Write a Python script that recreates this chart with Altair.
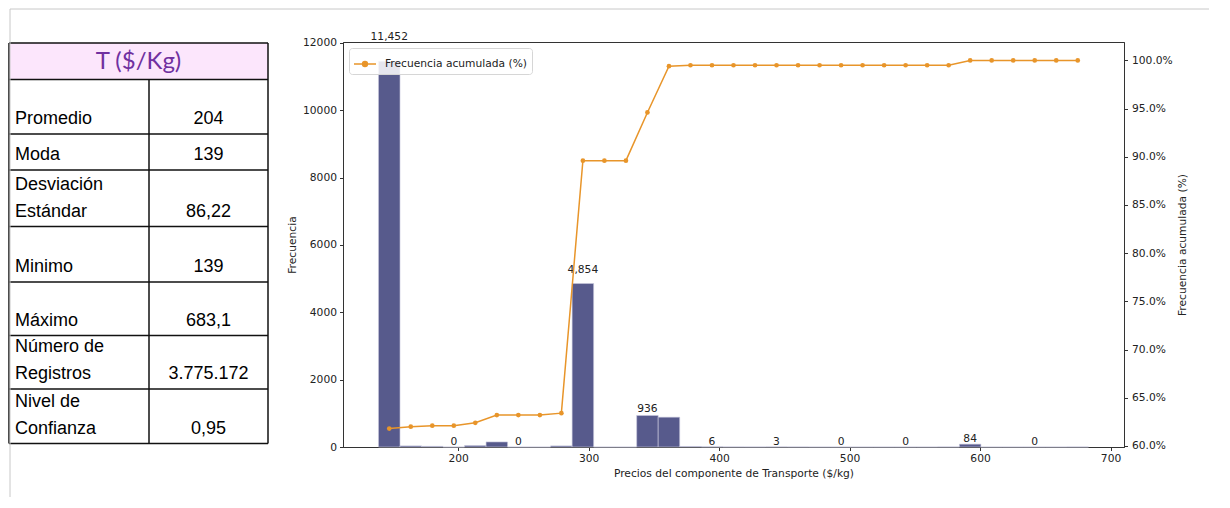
import altair as alt
import pandas as pd

# ---------------- data ----------------
# histogram (33 bins between min 139 and max 683.1)
bin_edges = [139.0, 155.49, 171.98, 188.46, 204.95, 221.44, 237.93, 254.42, 270.90, 287.39,
             303.88, 320.37, 336.85, 353.34, 369.83, 386.32, 402.81, 419.29, 435.78, 452.27,
             468.76, 485.25, 501.73, 518.22, 534.71, 551.20, 567.68, 584.17, 600.66, 617.15,
             633.64, 650.12, 666.61, 683.10]
counts = [11452, 33, 19, 0, 44, 150, 0, 0, 33, 4854,
          0, 0, 936, 885, 15, 6, 2, 1, 3, 1,
          0, 0, 0, 0, 0, 0, 2, 84, 0, 0,
          0, 0, 1]
cum_pct = [61.8, 62.0, 62.1, 62.1, 62.4, 63.2, 63.2, 63.2, 63.4, 89.6,
           89.6, 89.6, 94.6, 99.4, 99.5, 99.5, 99.5, 99.5, 99.5, 99.5,
           99.5, 99.5, 99.5, 99.5, 99.5, 99.5, 99.5, 100.0, 100.0, 100.0,
           100.0, 100.0, 100.0]
x_ticks = [200, 300, 400, 500, 600, 700]
y_ticks = [0, 2000, 4000, 6000, 8000, 10000, 12000]
pct_ticks = [0.60, 0.65, 0.70, 0.75, 0.80, 0.85, 0.90, 0.95, 1.00]
series_name = "Frecuencia acumulada (%)"

# summary table
table_title = "T ($/Kg)"
stat_labels = ["Promedio", "Moda", "Desviación\nEstándar", "Minimo", "Máximo",
               "Número de\nRegistros", "Nivel de\nConfianza"]
stat_values = ["204", "139", "86,22", "139", "683,1", "3.775.172", "0,95"]

# ---------------- layout / style ----------------
BAR = "#575a8c"
BAR_EDGE = "#c9cade"
ORANGE = "#e8952a"
TXT = "#222222"
FONT = "DejaVu Sans"
FS = 10.7

TABLE_W = 259
TABLE_H = 405
row_edges = [1, 37.5, 92, 128, 184.5, 240, 293.5, 347, 401.5]   # table grid (px from top)
col_split = 140
LINE_H = 27

PLOT_W = 781
PLOT_H = 405

# ---------------- table panel ----------------
tx = alt.Scale(domain=[0, TABLE_W], nice=False, zero=False)
ty = alt.Scale(domain=[0, TABLE_H], nice=False, zero=False, reverse=True)

header_df = pd.DataFrame({"x0": [0], "x1": [TABLE_W], "y0": [row_edges[0]], "y1": [row_edges[1]],
                          "xc": [TABLE_W / 2], "yc": [(row_edges[0] + row_edges[1]) / 2],
                          "t": [table_title]})
header_fill = alt.Chart(header_df).mark_rect(fill="#fce6fc").encode(
    x=alt.X("x0:Q", scale=tx, axis=None), x2="x1:Q",
    y=alt.Y("y0:Q", scale=ty, axis=None), y2="y1:Q")
header_text = alt.Chart(header_df).mark_text(
    font="Lato", fontSize=24, color="#7030a0", align="center", baseline="middle", dy=1
).encode(x=alt.X("xc:Q", scale=tx, axis=None), y=alt.Y("yc:Q", scale=ty, axis=None), text="t:N")

hl_df = pd.DataFrame({"y": row_edges, "x0": 0, "x1": TABLE_W})
hlines = alt.Chart(hl_df).mark_rule(color="#111111", strokeWidth=1.5).encode(
    x=alt.X("x0:Q", scale=tx, axis=None), x2="x1:Q", y=alt.Y("y:Q", scale=ty, axis=None))
vl_df = pd.DataFrame({"x": [0, TABLE_W, col_split],
                      "y0": [row_edges[0], row_edges[0], row_edges[1]],
                      "y1": [row_edges[-1]] * 3})
vlines = alt.Chart(vl_df).mark_rule(color="#111111", strokeWidth=1.5).encode(
    x=alt.X("x:Q", scale=tx, axis=None), y=alt.Y("y0:Q", scale=ty, axis=None), y2="y1:Q")

# one text item per label line, the last line sitting at the bottom of its row
lab_rows = []
for lab, bottom in zip(stat_labels, row_edges[2:]):
    parts = lab.split("\n")
    n = len(parts)
    for i, p in enumerate(parts):
        lab_rows.append({"line": p, "bottom": bottom, "k": n - 1 - i, "lx": 6})
lab_df = pd.DataFrame(lab_rows)
lab_text = alt.Chart(lab_df).transform_calculate(
    ypos=f"datum.bottom - {LINE_H} * datum.k").mark_text(
    font="Liberation Sans", fontSize=18, color="#000000", align="left", baseline="bottom", dy=-6
).encode(x=alt.X("lx:Q", scale=tx, axis=None), y=alt.Y("ypos:Q", scale=ty, axis=None), text="line:N")

val_df = pd.DataFrame({"value": stat_values, "bottom": row_edges[2:], "vx": (col_split + TABLE_W) / 2})
val_text = alt.Chart(val_df).mark_text(
    font="Liberation Sans", fontSize=18, color="#000000", align="center", baseline="bottom", dy=-6
).encode(x=alt.X("vx:Q", scale=tx, axis=None), y=alt.Y("bottom:Q", scale=ty, axis=None), text="value:N")

# faint page frame lines of the original screenshot
frame_top = alt.Chart(header_df).mark_rule(color="#c8c8c8", strokeWidth=1).encode(
    x=alt.value(1), x2=alt.value(1200), y=alt.value(-33))
frame_left = alt.Chart(header_df).mark_rule(color="#c8c8c8", strokeWidth=1).encode(
    x=alt.value(1), y=alt.value(-33), y2=alt.value(455))

table = alt.layer(header_fill, header_text, hlines, vlines, lab_text, val_text,
                  frame_top, frame_left).properties(
    width=TABLE_W, height=TABLE_H, view=alt.ViewBackground(stroke=None))

# ---------------- histogram + cumulative panel ----------------
hist = pd.DataFrame({"start": bin_edges[:-1], "end": bin_edges[1:], "count": counts,
                     "cum": [c / 100 for c in cum_pct], "idx": list(range(len(counts)))})
hist["center"] = (hist["start"] + hist["end"]) / 2
hist["base"] = 0

xs = alt.Scale(domain=[111.8, 710.3], nice=False, zero=False)
ys = alt.Scale(domain=[0, 12025], nice=False)
ps = alt.Scale(domain=[0.5989, 1.0191], nice=False, zero=False)

x_axis = alt.Axis(values=x_ticks, title="Precios del componente de Transporte ($/kg)", format="d")
y_axis = alt.Axis(values=y_ticks, title="Frecuencia", format="d")
p_axis = alt.Axis(orient="right", values=pct_ticks, format=".1%", labelPadding=4,
                  title="Frecuencia acumulada (%)", titleAngle=270, titleBaseline="top",
                  titlePadding=5)

bars = alt.Chart(hist).mark_rect(color=BAR, stroke=BAR_EDGE, strokeWidth=0.6).encode(
    x=alt.X("start:Q", scale=xs, axis=x_axis),
    x2="end:Q",
    y=alt.Y("count:Q", scale=ys, axis=y_axis),
    y2="base:Q",
)
bar_labels = alt.Chart(hist).transform_filter("datum.idx % 3 == 0").transform_calculate(
    ly="datum.count * 1.05").mark_text(
    font=FONT, fontSize=FS, color=TXT, baseline="bottom", align="center"
).encode(
    x=alt.X("center:Q", scale=xs, axis=x_axis),
    y=alt.Y("ly:Q", scale=ys, axis=y_axis),
    text=alt.Text("count:Q", format=",d"),
)
left = alt.layer(bars, bar_labels)

legend_symbol = "M-1,0L1,0M-0.22,0A0.22,0.22,0,1,0,0.22,0A0.22,0.22,0,1,0,-0.22,0Z"
legend = alt.Legend(title=None, orient="top-left", offset=6,
                    symbolType=legend_symbol, symbolSize=484,
                    symbolStrokeWidth=1.5, symbolStrokeColor=ORANGE,
                    symbolFillColor=ORANGE, labelOffset=8,
                    labelFont=FONT, labelFontSize=FS, labelColor=TXT,
                    padding=4, strokeColor="#d6d6d6", cornerRadius=3,
                    fillColor="rgba(255,255,255,0.85)")
color_enc = alt.Color("series:N", scale=alt.Scale(domain=[series_name], range=[ORANGE]),
                      legend=legend)
line = alt.Chart(hist).transform_calculate(series=f"'{series_name}'").mark_line(
    strokeWidth=1.5).encode(
    x=alt.X("center:Q", scale=xs, axis=x_axis),
    y=alt.Y("cum:Q", scale=ps, axis=p_axis),
    color=color_enc,
)
pts = alt.Chart(hist).transform_calculate(series=f"'{series_name}'").mark_point(
    filled=True, size=22, opacity=1).encode(
    x=alt.X("center:Q", scale=xs, axis=x_axis),
    y=alt.Y("cum:Q", scale=ps, axis=p_axis),
    color=color_enc,
)
right = alt.layer(line, pts)

main = alt.layer(left, right).resolve_scale(y="independent").properties(
    width=PLOT_W, height=PLOT_H, view=alt.ViewBackground(stroke="#333333", strokeWidth=1))

chart = alt.HConcatChart(hconcat=[table, main], spacing=75, bounds="flush").properties(
    padding={"left": 0, "top": 0, "right": 2, "bottom": 0}
).resolve_legend(color="independent").configure_view(stroke=None).configure_axis(
    grid=False, labelFont=FONT, titleFont=FONT, labelFontSize=FS, titleFontSize=FS,
    labelColor=TXT, titleColor=TXT, titleFontWeight="normal", tickColor="#333333",
    domainColor="#333333", tickSize=3.5, labelPadding=3, titlePadding=5,
)

chart.save("out.html", embed_options={"renderer": "svg", "actions": False})
